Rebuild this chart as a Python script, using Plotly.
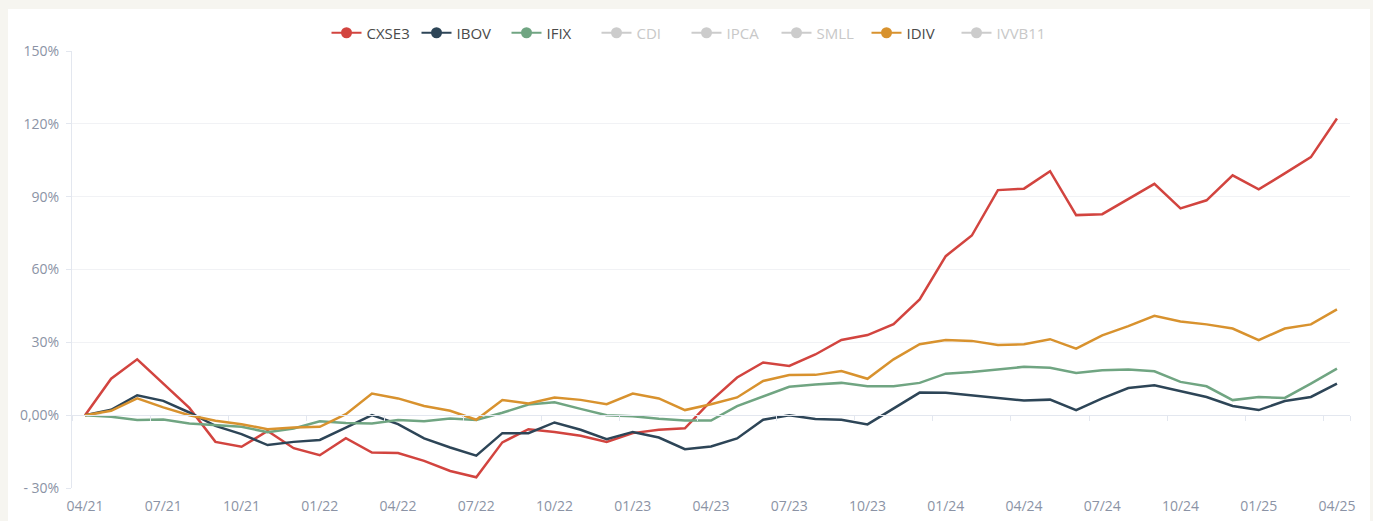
import pandas as pd
import plotly.graph_objects as go

# monthly categories 04/21 .. 04/25
months = [p.strftime("%m/%y") for p in pd.period_range("2021-04", "2025-04", freq="M")]

cxse3 = [0, 15, 23, 13, 3, -11, -13, -6.5, -13.6, -16.5,
         -9.5, -15.4, -15.6, -18.8, -23, -25.6, -11.2, -5.8, -6.9, -8.5,
         -11, -7.4, -6, -5.4, 5.9, 15.5, 21.7, 20.3, 25, 31,
         33, 37.5, 47.7, 65.5, 74, 92.7, 93.3, 100.5, 82.4, 82.8,
         88.9, 95.3, 85.2, 88.5, 98.8, 93, 99.6, 106.3, 122.2]
ibov = [0, 2.2, 8.2, 5.9, 1.1, -4.4, -7.8, -12.3, -11, -10.2,
        -5.1, 0, -3.7, -9.6, -13.3, -16.7, -7.4, -7.4, -3, -6,
        -9.9, -6.9, -9.2, -14, -12.9, -9.6, -1.9, 0, -1.6, -1.9,
        -3.8, 2.7, 9.3, 9.2, 8.2, 7.1, 6, 6.4, 2.1, 6.9,
        11.2, 12.3, 9.9, 7.5, 3.8, 2.1, 5.8, 7.5, 13]
ifix = [0, -0.7, -2, -1.8, -3.4, -4.1, -4.8, -7, -5.5, -2.5,
        -3.2, -3.4, -2, -2.5, -1.4, -2, 1, 4.4, 5.3, 2.6,
        0, -0.4, -1.5, -2.2, -2.2, 3.7, 7.8, 11.7, 12.6, 13.3,
        11.9, 11.9, 13.3, 17.1, 17.8, 18.9, 19.9, 19.5, 17.4, 18.5,
        18.8, 18.1, 13.7, 11.9, 6.2, 7.5, 7.1, 13, 19.2]
idiv = [0, 1.8, 6.9, 3.2, 0, -2.3, -3.7, -5.8, -5.1, -4.8,
        0.4, 8.9, 6.9, 3.8, 1.8, -1.9, 6.2, 4.8, 7.3, 6.3,
        4.5, 8.9, 6.9, 2.1, 4.5, 7.3, 14.1, 16.5, 16.6, 18.2,
        15, 23, 29.2, 31, 30.6, 28.9, 29.2, 31.3, 27.4, 32.9,
        36.7, 40.9, 38.6, 37.4, 35.7, 30.9, 35.7, 37.4, 43.6]

legend_names = ["CXSE3", "IBOV", "IFIX", "CDI", "IPCA", "SMLL", "IDIV", "IVVB11"]
active = {"CXSE3": cxse3, "IBOV": ibov, "IFIX": ifix, "IDIV": idiv}
colors = {"CXSE3": "#d2443f", "IBOV": "#2d4557", "IFIX": "#70a582", "IDIV": "#d8922e"}

y_ticks = [-30, 0, 30, 60, 90, 120, 150]
y_labels = ["- 30%", "0,00%", "30%", "60%", "90%", "120%", "150%"]

AXIS_GRAY = "#8b93a5"
LINE_GRAY = "#e3e7ef"

x_idx = list(range(len(months)))
fig = go.Figure()

for name, vals in active.items():
    fig.add_trace(go.Scatter(
        x=x_idx, y=vals, mode="lines", name=name,
        line=dict(color=colors[name], width=2.5),
        showlegend=False,
    ))

# legend entries (ECharts-like: line + circle; disabled series greyed out)
for name in legend_names:
    on = name in active
    col = colors[name] if on else "#cccccc"
    label = name if on else f"<span style='color:#c8c8c8'>{name}</span>"
    fig.add_trace(go.Scatter(
        x=[None], y=[None], mode="lines+markers", name=label,
        line=dict(color=col, width=2), marker=dict(color=col, size=11),
    ))

# tick marks on the zero line, at band boundaries
fig.add_trace(go.Scatter(x=[None], y=[None], xaxis="x2", showlegend=False))

tick_pos = list(range(0, len(months), 3))
fig.update_layout(
    width=1373, height=521,
    margin=dict(l=72, r=23, t=51, b=33, autoexpand=False),
    paper_bgcolor="#f6f5f0",
    plot_bgcolor="#ffffff",
    font=dict(family="Open Sans, sans-serif", size=14, color=AXIS_GRAY),
    xaxis=dict(
        range=[-0.5, len(months) - 0.5],
        tickmode="array", tickvals=tick_pos,
        ticktext=[months[i] for i in tick_pos],
        showgrid=False, zeroline=False, showline=False, ticks="",
        ticklabelstandoff=8,
        tickfont=dict(size=14, color=AXIS_GRAY),
    ),
    xaxis2=dict(
        overlaying="x", anchor="free", position=30 / 180,
        range=[-0.5, len(months) - 0.5],
        tickmode="array",
        tickvals=[i - 0.5 for i in tick_pos] + [len(months) - 0.5],
        showticklabels=False, ticks="outside", ticklen=5,
        tickcolor=LINE_GRAY, showline=True, linecolor=LINE_GRAY,
        showgrid=False, zeroline=False,
    ),
    yaxis=dict(
        range=[-30, 150],
        tickmode="array", tickvals=y_ticks, ticktext=y_labels,
        showgrid=True, gridcolor="#f1f2f5", zeroline=False,
        showline=True, linecolor=LINE_GRAY,
        ticks="outside", ticklen=5, tickcolor=LINE_GRAY,
        ticklabelstandoff=4,
        tickfont=dict(size=14, color=AXIS_GRAY),
    ),
    legend=dict(
        orientation="h", xref="container", yref="container",
        x=0.5, xanchor="center", y=1 - 33 / 521, yanchor="middle",
        font=dict(size=15, color="#4a4a4a"),
        entrywidth=45, entrywidthmode="pixels",
        bgcolor="rgba(0,0,0,0)",
    ),
    shapes=[dict(
        type="rect", xref="paper", yref="paper", layer="below",
        x0=-64 / 1278, x1=1298 / 1278, y0=-40 / 437, y1=(437 + 42) / 437,
        fillcolor="#ffffff", line=dict(width=0),
    )],
)

fig.write_html("out.html", config={"displayModeBar": False},
               post_script="document.body.style.margin='0';")
